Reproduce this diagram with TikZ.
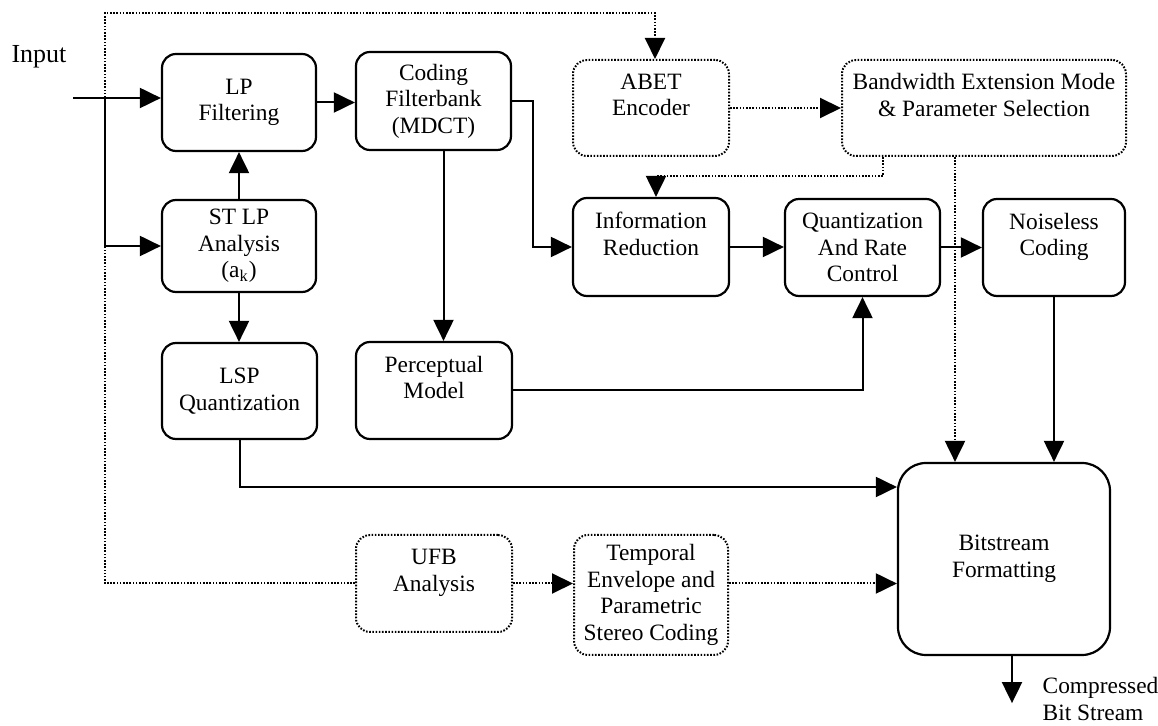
\documentclass[tikz,border=0pt]{standalone}
\usepackage{fontspec}
\setmainfont{Liberation Serif}
\usepackage{tikz}
\usetikzlibrary{arrows.meta}

\begin{document}
\begin{tikzpicture}[x=0.5pt, y=-0.5pt, line width=1pt,
    font=\fontsize{11.7}{13.25}\selectfont,
    blk/.style={draw, line width=1.1pt, rounded corners=7pt, align=center, inner sep=0pt},
    dblk/.style={blk, line width=1pt, dash pattern=on 0.8pt off 0.8pt},
    arr/.style={-{Triangle[length=10.5pt, width=10pt]}},
    darr/.style={arr, line width=1pt, dash pattern=on 0.8pt off 0.8pt}]
    \useasboundingbox (0,0) rectangle (1158,726);

    % draw blocks, top row
    \node[blk, minimum width=77pt, minimum height=48.5pt] (lpf) at (239,102.5) {LP\\Filtering};
    \node[blk, minimum width=77.5pt, minimum height=49pt] (cfb) at (433.5,101) {Coding\\Filterbank\\(MDCT)};
    \node[dblk, minimum width=78pt, minimum height=48pt] (abet) at (651,108) {ABET\\Encoder\\~};
    \node[dblk, minimum width=142pt, minimum height=48pt] (bwe) at (984,108) {Bandwidth Extension Mode\\\& Parameter Selection\\~};

    % draw blocks, middle rows
    \node[blk, minimum width=77pt, minimum height=46pt] (stlp) at (239,246) {ST LP\\Analysis\\(a\textsubscript{k})};
    \node[blk, minimum width=78pt, minimum height=49pt] (ired) at (651,247) {Information\\Reduction\\~};
    \node[blk, minimum width=77.5pt, minimum height=48.5pt] (quant) at (862.5,247.5) {Quantization\\And Rate\\Control};
    \node[blk, minimum width=71pt, minimum height=48.5pt] (nless) at (1054,247.5) {Noiseless\\Coding\\~};
    \node[blk, minimum width=77.5pt, minimum height=48pt] (lsp) at (239.5,391) {LSP\\Quantization};
    \node[blk, minimum width=78pt, minimum height=48.5pt] (pmod) at (434,390.5) {Perceptual\\Model\\~};

    % draw blocks, bottom row
    \node[dblk, minimum width=78pt, minimum height=48.5pt] (ufb) at (434,583.5) {UFB\\Analysis\\~};
    \node[dblk, minimum width=77pt, minimum height=60pt] (tenv) at (651,595) {Temporal\\Envelope and\\Parametric\\Stereo Coding};
    \node[blk, rounded corners=14pt, minimum width=106pt, minimum height=96pt] (bsf) at (1004,559) {Bitstream\\Formatting};

    % draw in and out labels
    \node[font=\fontsize{13}{15}\selectfont] (inp) at (39,57) {Input};
    \node[anchor=west, align=left] (cbs) at (1035,699) {Compressed\\Bit Stream};
    \coordinate (in) at (73,98);
    \coordinate (split) at (105,98);
    \coordinate (dtop) at (105,13);

    % draw solid connectors
    \draw[arr] (in) -- (in -| lpf.west);
    \draw[arr] (split) |- (stlp.west);
    \draw[arr] (stlp) -- (lpf);
    \draw[arr] (lpf.east) -- (lpf.east -| cfb.west);
    \draw[arr] (cfb.east) -- ++(21,0) |- (ired.west);
    \draw[arr] ([xshift=5pt]cfb.south) -- ([xshift=5pt]cfb.south |- pmod.north);
    \draw[arr] (stlp.south) -- (stlp.south |- lsp.north);
    \draw[arr] (lsp.south) |- ([yshift=36pt]bsf.west);
    \draw[arr] (pmod.east) -| (quant.south);
    \draw[arr] (ired.east) -- (ired.east -| quant.west);
    \draw[arr] (quant.east) -- (quant.east -| nless.west);
    \draw[arr] (nless.south) -- (nless.south |- bsf.north);
    \draw[arr] ([xshift=4pt]bsf.south) -- ++(0,47);

    % draw dotted connectors
    \draw[darr] (ufb.west) -| (dtop) -| ([xshift=2pt]abet.north);
    \draw[darr] (abet) -- (bwe);
    \draw[darr] ([xshift=-50.5pt]bwe.south) -- ++(0,19) -| ([xshift=2.5pt]ired.north);
    \draw[darr] ([xshift=-14.5pt]bwe.south) -- ([xshift=-14.5pt]bwe.south |- bsf.north);
    \draw[darr] (ufb.east) -- (ufb.east -| tenv.west);
    \draw[darr] (ufb.east -| tenv.east) -- (ufb.east -| bsf.west);

\end{tikzpicture}
\end{document}
